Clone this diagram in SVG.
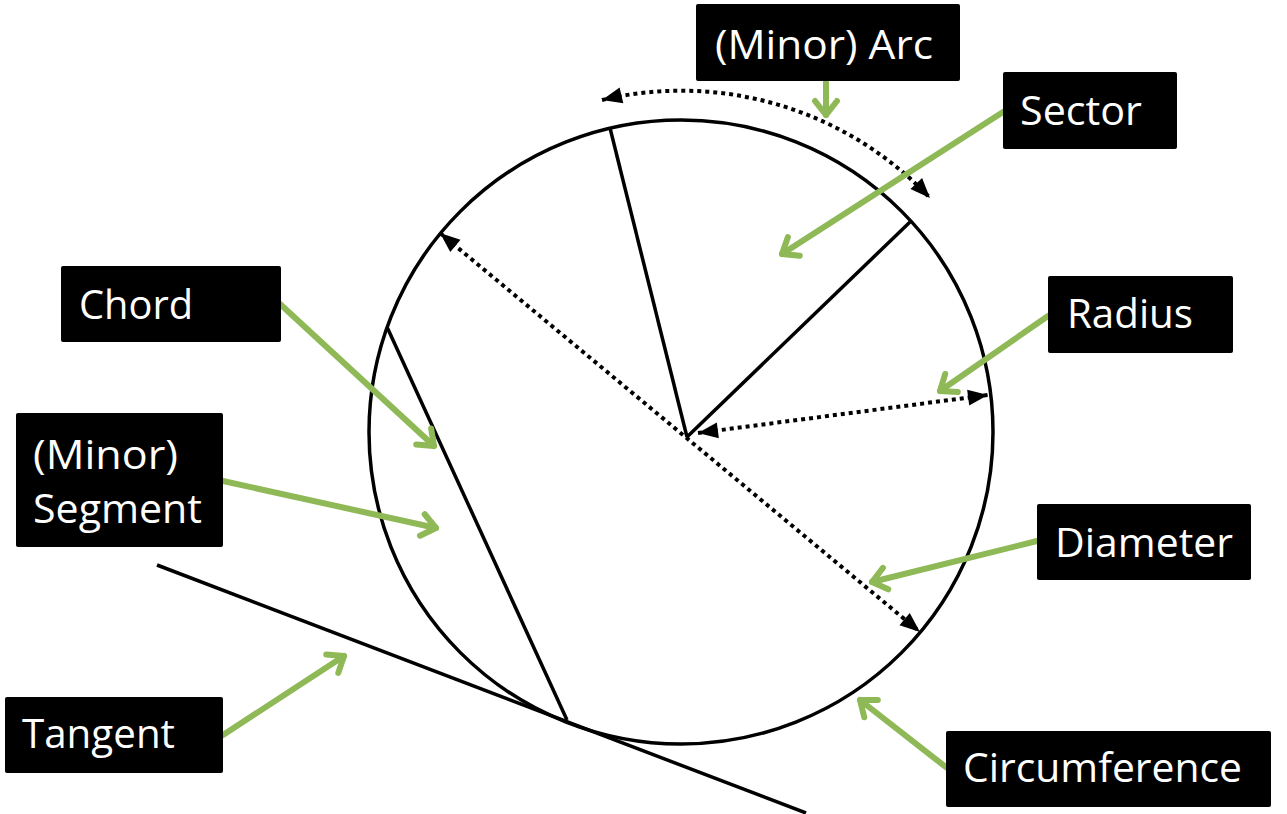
<svg xmlns="http://www.w3.org/2000/svg" width="1287" height="814" viewBox="0 0 1287 814">
<defs>
<style>
.box{fill:#000;}
.lbl{font-family:"Open Sans","Liberation Sans",sans-serif;font-size:41px;fill:#fff;}
.solid{fill:none;stroke:#000;stroke-width:3.5;}
.dot{fill:none;stroke:#000;stroke-width:4;stroke-dasharray:4 4;marker-start:url(#blk);marker-end:url(#blk);}
.grn{fill:none;stroke:#8fb856;stroke-width:6;stroke-linecap:round;marker-end:url(#gh);}
</style>
<marker id="blk" markerUnits="userSpaceOnUse" markerWidth="22" markerHeight="18" refX="20" refY="8" orient="auto-start-reverse" overflow="visible">
<path d="M0,0 L20,8 L0,16 z" fill="#000"/>
</marker>
<marker id="gh" markerUnits="userSpaceOnUse" markerWidth="20" markerHeight="26" refX="15" refY="12" orient="auto" overflow="visible">
<path d="M1,1 L15,12 L1,23" fill="none" stroke="#8fb856" stroke-width="6" stroke-linecap="round" stroke-linejoin="round"/>
</marker>
</defs>
<rect width="1287" height="814" fill="#fff"/>
<g id="figure">
<circle cx="681" cy="432" r="312" class="solid"/>
<line x1="687" y1="437" x2="610" y2="128" class="solid"/>
<line x1="687" y1="437" x2="910" y2="222" class="solid"/>
<line x1="387" y1="327" x2="567" y2="720" class="solid"/>
<line x1="157" y1="565" x2="806" y2="813" class="solid"/>
</g>
<g id="connectors">
<path d="M440,233 L920,632" class="dot"/>
<path d="M698,433 L988,395" class="dot"/>
<path d="M602,100 A342,342 0 0 1 930,198" class="dot"/>
<line x1="826" y1="82" x2="826" y2="115" class="grn"/>
<line x1="1003" y1="112" x2="782" y2="254" class="grn"/>
<line x1="1048" y1="316" x2="940" y2="391" class="grn"/>
<line x1="280" y1="304" x2="434" y2="446" class="grn"/>
<line x1="223" y1="481" x2="436" y2="528" class="grn"/>
<line x1="1037" y1="541" x2="872" y2="582" class="grn"/>
<line x1="223" y1="735" x2="344" y2="656" class="grn"/>
<line x1="947" y1="768" x2="860" y2="700" class="grn"/>
</g>
<g id="arc-label"><rect class="box" x="696" y="4" width="264" height="77" rx="2"/><text class="lbl" x="715" y="59" textLength="218" lengthAdjust="spacingAndGlyphs">(Minor) Arc</text></g>
<g id="sector-label"><rect class="box" x="1003" y="72" width="174" height="77" rx="2"/><text class="lbl" x="1020" y="125" textLength="122" lengthAdjust="spacingAndGlyphs">Sector</text></g>
<g id="radius-label"><rect class="box" x="1048" y="276" width="185" height="77" rx="2"/><text class="lbl" x="1067" y="328" textLength="126" lengthAdjust="spacingAndGlyphs">Radius</text></g>
<g id="chord-label"><rect class="box" x="61" y="266" width="220" height="76" rx="2"/><text class="lbl" x="79" y="319" textLength="114" lengthAdjust="spacingAndGlyphs">Chord</text></g>
<g id="segment-label"><rect class="box" x="16" y="413" width="207" height="134" rx="2"/><text class="lbl" x="33" y="469" textLength="145" lengthAdjust="spacingAndGlyphs">(Minor)</text><text class="lbl" x="33" y="523" textLength="169" lengthAdjust="spacingAndGlyphs">Segment</text></g>
<g id="diameter-label"><rect class="box" x="1037" y="504" width="214" height="76" rx="2"/><text class="lbl" x="1055" y="557" textLength="178" lengthAdjust="spacingAndGlyphs">Diameter</text></g>
<g id="tangent-label"><rect class="box" x="5" y="697" width="218" height="76" rx="2"/><text class="lbl" x="22" y="748" textLength="153" lengthAdjust="spacingAndGlyphs">Tangent</text></g>
<g id="circumference-label"><rect class="box" x="946" y="731" width="325" height="76" rx="2"/><text class="lbl" x="963" y="782" textLength="279" lengthAdjust="spacingAndGlyphs">Circumference</text></g>
</svg>
